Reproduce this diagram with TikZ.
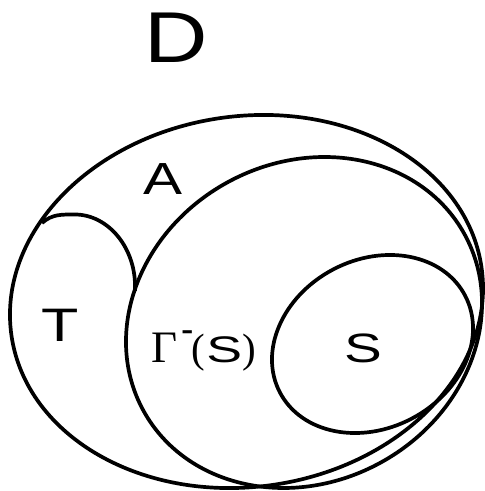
\documentclass[tikz,border=0pt]{standalone}
\usepackage{fontspec}
\setmainfont{Liberation Sans}
\newfontfamily\serifface{Liberation Serif}
\begin{document}
\begin{tikzpicture}[x=1pt,y=1pt,
  setline/.style={draw=black,line width=3.7pt},
  lbl/.style={anchor=base,inner sep=0pt,text=black}]
\useasboundingbox (0,0) rectangle (485,491);
% outer set D
\draw[setline,rotate around={8.3:(246.5,189.5)}] (246.5,189.5) ellipse [x radius=237.5,y radius=185.3];
% Gamma^-(S)
\draw[setline,rotate around={28.9:(304,168.5)}] (304,168.5) ellipse [x radius=183.2,y radius=159.7];
% S
\draw[setline,rotate around={27.6:(372.5,147)}] (372.5,147) ellipse [x radius=104.5,y radius=84.3];
% T
\coordinate (t1) at (42,268);
\coordinate (t2) at (75,276.5);
\coordinate (t3) at (135,200);
\draw[setline] (t1) .. controls (52,277) and (62,276.5) .. (t2)
  .. controls (108,276.5) and (137,243) .. (t3);
% labels
\node[lbl] (D) at (176,428) {\scalebox{1.22}[1]{\fontsize{72}{72}\selectfont D}};
\node[lbl] (A) at (163,296) {\scalebox{1.3}[1]{\fontsize{45}{45}\selectfont A}};
\node[lbl] (T) at (60.5,149) {\scalebox{1.3}[1]{\fontsize{47}{47}\selectfont T}};
\node[lbl] (S) at (363.5,128) {\scalebox{1.38}[1]{\fontsize{41}{41}\selectfont S}};
\node[lbl,anchor=base west] (G) at (151,128)
  {{\serifface\fontsize{45}{45}\selectfont Γ}\kern5pt\raisebox{23pt}{\scalebox{0.85}[1.4]{\fontsize{22}{22}\selectfont\bfseries –}}\kern-1pt{\serifface\fontsize{41}{41}\selectfont (}\kern1pt\scalebox{1.45}[1]{\fontsize{37}{37}\selectfont S}{\serifface\fontsize{41}{41}\selectfont )}};
\end{tikzpicture}
\end{document}
